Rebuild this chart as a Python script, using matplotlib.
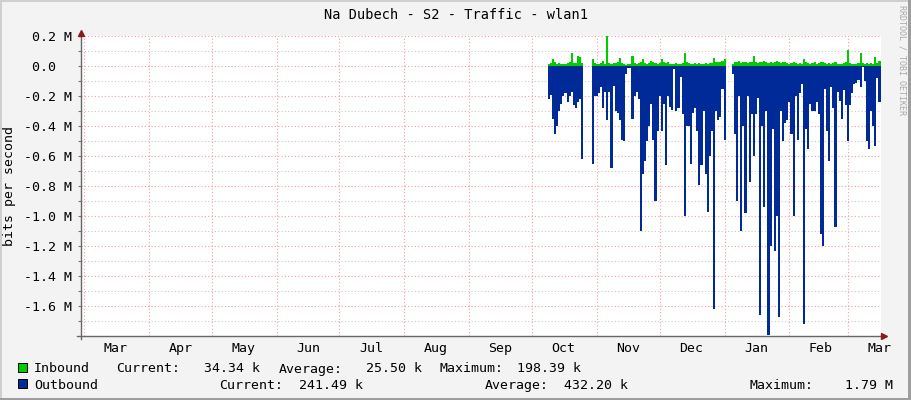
import numpy as np
import pandas as pd
import matplotlib
matplotlib.use("Agg")
from matplotlib import pyplot as plt
from matplotlib.patches import Rectangle

plt.rcParams['font.family'] = 'DejaVu Sans Mono'
plt.rcParams['font.size'] = 9.5

nan = np.nan

# one value per day, starting 2014-10-08, in Mbit/s
data_start = "2014-10-08 12:00"
inbound = [
    0.015, 0.02, 0.045, 0.025, 0.015, 0.02, 0.015, 0.012, 0.015, 0.02,
    0.03, 0.085, 0.02, 0.02, 0.07, 0.06, 0.02, 0.01, nan, nan,
    nan, 0.045, 0.02, 0.015, 0.012, 0.02, 0.035, 0.015, 0.198, 0.02,
    0.015, 0.02, 0.018, 0.025, 0.055, 0.02, 0.015, 0.01, 0.015, 0.015,
    0.07, 0.02, 0.015, 0.02, 0.025, 0.05, 0.02, 0.015, 0.02, 0.035,
    0.03, 0.02, 0.015, 0.02, 0.045, 0.025, 0.02, 0.03, 0.015, 0.012,
    0.015, 0.02, 0.015, 0.012, 0.02, 0.09, 0.025, 0.02, 0.015, 0.015,
    0.02, 0.015, 0.02, 0.015, 0.012, 0.02, 0.015, 0.02, 0.02, 0.055,
    0.03, 0.025, 0.03, 0.035, 0.05, 0.02, nan, nan, 0.015, 0.025,
    0.03, 0.035, 0.02, 0.025, 0.03, 0.02, 0.025, 0.03, 0.065, 0.025,
    0.02, 0.03, 0.025, 0.035, 0.03, 0.02, 0.025, 0.02, 0.03, 0.035,
    0.025, 0.02, 0.03, 0.025, 0.02, 0.015, 0.02, 0.025, 0.02, 0.015,
    0.02, 0.015, 0.05, 0.025, 0.02, 0.015, 0.02, 0.03, 0.015, 0.02,
    0.025, 0.03, 0.02, 0.015, 0.02, 0.015, 0.02, 0.025, 0.015, 0.012,
    0.015, 0.02, 0.03, 0.11, 0.02, 0.015, 0.012, 0.015, 0.02, 0.085,
    0.02, 0.015, 0.02, 0.015, 0.02, 0.015, 0.06, 0.02, 0.034,
]
outbound = [
    0.22, 0.19, 0.35, 0.45, 0.40, 0.30, 0.25, 0.20, 0.18, 0.24,
    0.20, 0.17, 0.26, 0.28, 0.24, 0.22, 0.62, 0.01, nan, nan,
    nan, 0.65, 0.20, 0.20, 0.18, 0.14, 0.28, 0.17, 0.36, 0.17,
    0.68, 0.13, 0.30, 0.31, 0.36, 0.49, 0.50, 0.05, 0.01, 0.01,
    0.35, 0.20, 0.17, 0.22, 1.10, 0.72, 0.63, 0.50, 0.40, 0.25,
    0.49, 0.90, 0.43, 0.20, 0.43, 0.25, 0.66, 0.20, 0.27, 0.29,
    0.02, 0.30, 0.28, 0.07, 0.32, 1.00, 0.40, 0.40, 0.65, 0.31,
    0.28, 0.43, 0.79, 0.66, 0.30, 0.72, 0.97, 0.60, 0.43, 1.62,
    0.30, 0.36, 0.34, 0.15, 0.49, 0.01, nan, nan, 0.05, 0.45,
    0.90, 0.20, 1.10, 0.40, 0.98, 0.20, 0.77, 0.32, 0.60, 0.32,
    0.21, 1.66, 0.40, 0.94, 0.30, 1.79, 1.20, 0.42, 1.23, 1.00,
    1.67, 0.30, 0.50, 0.38, 0.36, 0.24, 0.45, 1.00, 0.20, 0.49,
    0.18, 0.12, 1.72, 0.42, 0.55, 0.25, 0.30, 0.30, 0.24, 0.32,
    1.12, 1.20, 0.15, 0.43, 0.63, 0.14, 0.28, 1.07, 0.17, 0.23,
    0.35, 0.16, 0.26, 0.50, 0.26, 0.18, 0.12, 0.11, 0.09, 0.14,
    0.005, 0.10, 0.50, 0.55, 0.30, 0.40, 0.53, 0.08, 0.24,
]

month_labels = ['Mar', 'Apr', 'May', 'Jun', 'Jul', 'Aug', 'Sep',
                'Oct', 'Nov', 'Dec', 'Jan', 'Feb', 'Mar']
y_major = [0.2, 0.0, -0.2, -0.4, -0.6, -0.8, -1.0, -1.2, -1.4, -1.6]
y_labels = ['0.2 M', '0.0  ', '-0.2 M', '-0.4 M', '-0.6 M', '-0.8 M',
            '-1.0 M', '-1.2 M', '-1.4 M', '-1.6 M']

legend_rows = [
    ('Inbound', '#00CC00', [('Current:', 116), ('34.34 k', 204.5), ('Average:', 279),
                            ('25.50 k', 366), ('Maximum:', 440), ('198.39 k', 517)]),
    ('Outbound', '#002A97', [('Current:', 219.6), ('241.49 k', 299), ('Average:', 485),
                             ('432.20 k', 563.6), ('Maximum:', 749.6), ('1.79 M', 845)]),
]

t0 = pd.Timestamp("2014-02-27 13:00")
t1 = t0 + pd.Timedelta(days=382.2)

days = pd.date_range(data_start, periods=len(outbound), freq="D")
x = list(days) + [t1]
inb = np.array(inbound + [inbound[-1]])
outb = -np.array(outbound + [outbound[-1]])

W, H = 911, 400
fig = plt.figure(figsize=(W / 100, H / 100), dpi=100, facecolor='#F3F3F3')
ax = fig.add_axes([81 / W, 64 / H, 800 / W, 300 / H])
ax.set_facecolor('white')

ax.fill_between(x, 0, inb, step='post', color='#00CC00', lw=0)
ax.fill_between(x, 0, outb, step='post', color='#002A97', lw=0)

ax.set_xlim(t0, t1)
ax.set_ylim(-1.8, 0.2)

month_starts = pd.date_range("2014-03-01", "2015-03-01", freq="MS")
mid_months = pd.date_range("2014-03-16", "2015-03-16", freq="MS") + pd.Timedelta(days=15)
mid_months = [pd.Timestamp(2014 + (2 + i) // 12, (2 + i) % 12 + 1, 16) for i in range(13)]
ax.set_xticks(month_starts)
ax.set_xticklabels([])
ax.set_xticks(mid_months, labels=month_labels, minor=True)
ax.tick_params(axis='x', which='both', length=0)
ax.tick_params(axis='x', which='minor', pad=4)

ax.set_yticks(y_major, labels=y_labels)
ax.set_yticks(np.arange(-1.7, 0.2, 0.2), minor=True)
ax.tick_params(axis='y', which='both', direction='out', length=2, width=0.8,
               color='#777777', pad=4.5)

red = '#F2A0A0'
ax.xaxis.grid(True, which='major', color=red, lw=0.8, ls=(0, (1, 2)))
ax.yaxis.grid(True, which='major', color=red, lw=0.8, ls=(0, (1, 2)))
ax.yaxis.grid(True, which='minor', color='#C8C8C8', lw=0.8, ls=(0, (1, 2)))
ax.set_axisbelow(True)

for s in ax.spines.values():
    s.set_visible(False)

# axis lines with arrows
ax.plot([-4 / 800, 803 / 800], [0, 0], transform=ax.transAxes, color='#666666',
        lw=1, clip_on=False, zorder=5)
ax.plot([0, 0], [-3 / 300, 303 / 300], transform=ax.transAxes, color='#666666',
        lw=1, clip_on=False, zorder=5)
ax.plot([803 / 800], [0], transform=ax.transAxes, marker='>', ms=5, color='#8B1A1A',
        clip_on=False, zorder=6)
ax.plot([0], [303 / 300], transform=ax.transAxes, marker='^', ms=5, color='#8B1A1A',
        clip_on=False, zorder=6)

fig.text(455.5 / W, 1 - 19 / H, 'Na Dubech - S2 - Traffic - wlan1', ha='center',
         va='baseline', fontsize=9.8)
fig.text(9.5 / W, 1 - 186 / H, 'bits per second', rotation=90, ha='center', va='center')
fig.text(902 / W, 1 - 60 / H, 'RRDTOOL / TOBI OETIKER', rotation=270, ha='center',
         va='center', fontsize=6, color='#A8A8A8')

# legend
for i, (name, col, items) in enumerate(legend_rows):
    base = 372.5 + i * 16.2
    fig.add_artist(Rectangle((17.5 / W, 1 - (base - 0.3) / H), 9 / W, 9 / H,
                             transform=fig.transFigure, facecolor=col,
                             edgecolor='black', lw=0.7))
    fig.text(34 / W, 1 - base / H, name, va='baseline')
    for txt, px in items:
        fig.text(px / W, 1 - base / H, txt, va='baseline')

# frame around the picture
fig.add_artist(Rectangle((0, 1 - 2 / H), 1, 2 / H, transform=fig.transFigure,
                         color='#CFCFCF', lw=0))
fig.add_artist(Rectangle((0, 0), 2 / W, 1, transform=fig.transFigure,
                         color='#CFCFCF', lw=0))
fig.add_artist(Rectangle((0, 0), 1, 2 / H, transform=fig.transFigure,
                         color='#9E9E9E', lw=0))
fig.add_artist(Rectangle((1 - 3 / W, 0), 3 / W, 1, transform=fig.transFigure,
                         color='#9E9E9E', lw=0))

fig.savefig("out.png", dpi=100, facecolor=fig.get_facecolor())
